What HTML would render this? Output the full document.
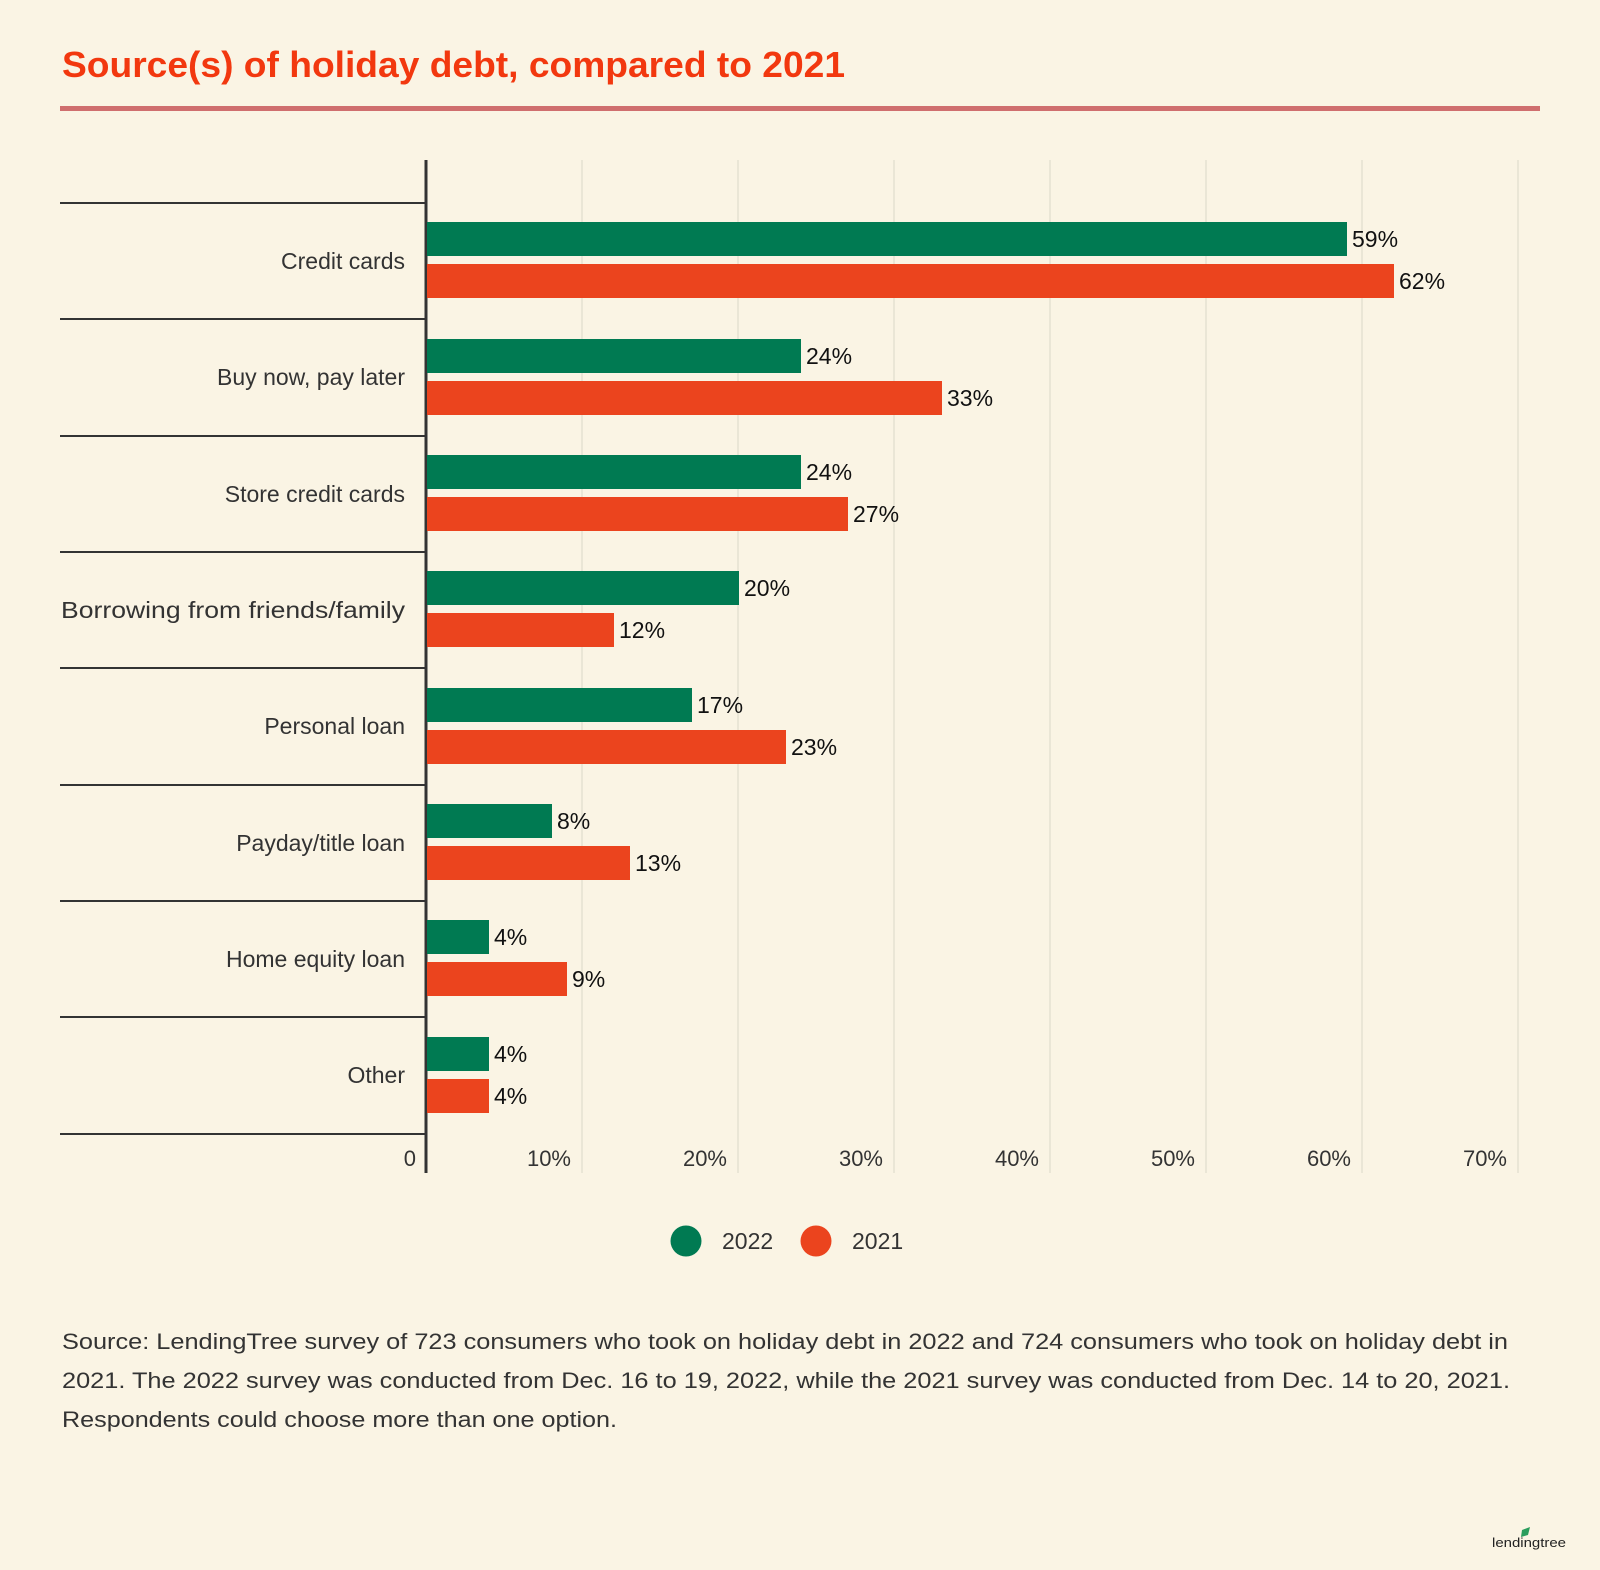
<!DOCTYPE html>
<html><head><meta charset="utf-8"><style>
html,body{margin:0;padding:0;background:#faf4e4;}
svg{display:block;font-family:"Liberation Sans",sans-serif;}
</style></head><body>
<svg width="1600" height="1570" viewBox="0 0 1600 1570" xmlns="http://www.w3.org/2000/svg">
<rect width="1600" height="1570" fill="#faf4e4"/>
<text x="62" y="77" font-size="36" font-weight="bold" fill="#f2380f" textLength="783" lengthAdjust="spacingAndGlyphs">Source(s) of holiday debt, compared to 2021</text>
<rect x="60" y="106" width="1480" height="5" fill="#cf6e6e"/>
<g stroke="#e5e2d2" stroke-width="1.5">
<line x1="582" y1="160" x2="582" y2="1173"/><line x1="738" y1="160" x2="738" y2="1173"/>
<line x1="894" y1="160" x2="894" y2="1173"/><line x1="1050" y1="160" x2="1050" y2="1173"/>
<line x1="1206" y1="160" x2="1206" y2="1173"/><line x1="1362" y1="160" x2="1362" y2="1173"/>
<line x1="1518" y1="160" x2="1518" y2="1173"/>
</g>
<g stroke="#333" stroke-width="2">
<line x1="60" y1="203" x2="426" y2="203"/><line x1="60" y1="319" x2="426" y2="319"/>
<line x1="60" y1="436" x2="426" y2="436"/><line x1="60" y1="552" x2="426" y2="552"/>
<line x1="60" y1="668" x2="426" y2="668"/><line x1="60" y1="785" x2="426" y2="785"/>
<line x1="60" y1="901" x2="426" y2="901"/><line x1="60" y1="1017" x2="426" y2="1017"/>
<line x1="60" y1="1134" x2="426" y2="1134"/>
</g>
<line x1="426" y1="160" x2="426" y2="1173" stroke="#333" stroke-width="3"/>
<g fill="#007a52">
<rect x="427" y="222" width="920" height="34"/>
<rect x="427" y="339" width="374" height="34"/>
<rect x="427" y="455" width="374" height="34"/>
<rect x="427" y="571" width="312" height="34"/>
<rect x="427" y="688" width="265" height="34"/>
<rect x="427" y="804" width="125" height="34"/>
<rect x="427" y="920" width="62" height="34"/>
<rect x="427" y="1037" width="62" height="34"/>
</g>
<g fill="#eb441e">
<rect x="427" y="264" width="967" height="34"/>
<rect x="427" y="381" width="515" height="34"/>
<rect x="427" y="497" width="421" height="34"/>
<rect x="427" y="613" width="187" height="34"/>
<rect x="427" y="730" width="359" height="34"/>
<rect x="427" y="846" width="203" height="34"/>
<rect x="427" y="962" width="140" height="34"/>
<rect x="427" y="1079" width="62" height="34"/>
</g>
<g font-size="23" fill="#111">
<text x="1352" y="247">59%</text><text x="1399" y="289">62%</text>
<text x="806" y="364">24%</text><text x="947" y="406">33%</text>
<text x="806" y="480">24%</text><text x="853" y="522">27%</text>
<text x="744" y="596">20%</text><text x="619" y="638">12%</text>
<text x="697" y="713">17%</text><text x="791" y="755">23%</text>
<text x="557" y="829">8%</text><text x="635" y="871">13%</text>
<text x="494" y="945">4%</text><text x="572" y="987">9%</text>
<text x="494" y="1062">4%</text><text x="494" y="1104">4%</text>
</g>
<g font-size="23" fill="#333" text-anchor="end">
<text x="405" y="269">Credit cards</text>
<text x="405" y="385">Buy now, pay later</text>
<text x="405" y="502">Store credit cards</text>
<text x="405" y="618" textLength="344" lengthAdjust="spacingAndGlyphs">Borrowing from friends/family</text>
<text x="405" y="734">Personal loan</text>
<text x="405" y="851">Payday/title loan</text>
<text x="405" y="967">Home equity loan</text>
<text x="405" y="1083">Other</text>
</g>
<g font-size="22" fill="#333" text-anchor="end">
<text x="416" y="1166">0</text>
<text x="571" y="1166">10%</text><text x="727" y="1166">20%</text>
<text x="883" y="1166">30%</text><text x="1039" y="1166">40%</text>
<text x="1195" y="1166">50%</text><text x="1351" y="1166">60%</text>
<text x="1507" y="1166">70%</text>
</g>
<circle cx="686" cy="1241" r="15.5" fill="#007a52"/>
<text x="722" y="1249" font-size="23" fill="#333">2022</text>
<circle cx="816" cy="1241" r="15.5" fill="#eb441e"/>
<text x="852" y="1249" font-size="23" fill="#333">2021</text>
<g font-size="22" fill="#333">
<text x="62" y="1349" textLength="1446" lengthAdjust="spacingAndGlyphs">Source: LendingTree survey of 723 consumers who took on holiday debt in 2022 and 724 consumers who took on holiday debt in</text>
<text x="62" y="1388" textLength="1448" lengthAdjust="spacingAndGlyphs">2021. The 2022 survey was conducted from Dec. 16 to 19, 2022, while the 2021 survey was conducted from Dec. 14 to 20, 2021.</text>
<text x="62" y="1427" textLength="555" lengthAdjust="spacingAndGlyphs">Respondents could choose more than one option.</text>
</g>
<path d="M1522 1530 l8 -3 l-2 8 l-7 2 z" fill="#2a9d5c"/>
<text x="1492" y="1547" font-size="13" fill="#222" textLength="74" lengthAdjust="spacingAndGlyphs">lendingtree</text>
</svg>
</body></html>
